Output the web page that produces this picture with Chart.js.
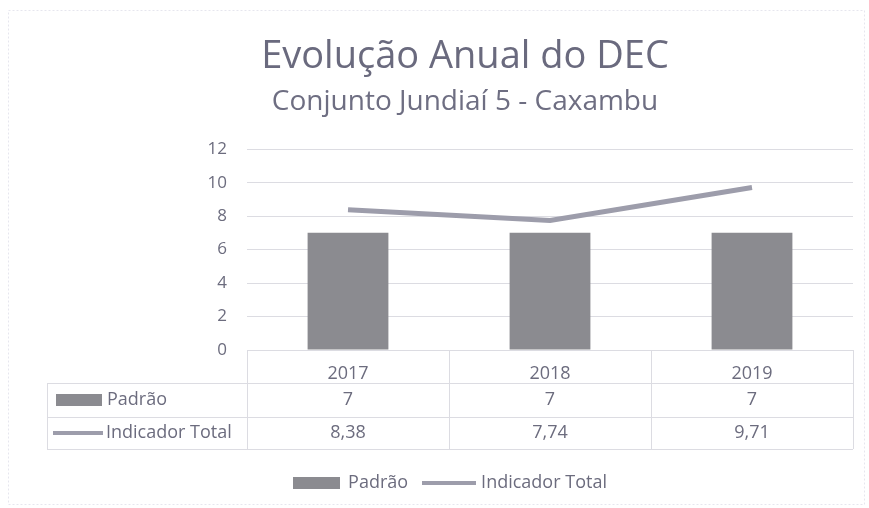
<!DOCTYPE html>
<html>
<head>
<meta charset="utf-8">
<script src="https://cdn.jsdelivr.net/npm/chart.js@4"></script>
<style>
  html, body { margin: 0; padding: 0; background: #fff; }
  #wrap { width: 869px; height: 508px; position: relative; }
</style>
</head>
<body>
<div id="wrap"><canvas id="chart"></canvas></div>
<script>
const years = ['2017', '2018', '2019'];
const padrao = [7, 7, 7];
const indicadorTotal = [8.38, 7.74, 9.71];
const yTicks = [0, 2, 4, 6, 8, 10, 12];

const barColor = '#8b8b90';
const lineColor = '#9d9dab';
const textColor = '#6c6c7e';
const gridColor = '#dcdce2';
const fontFamily = "'Open Sans', 'Noto Sans', sans-serif";

// little marker images for the legend
function makeMarker(w, h, color) {
    const c = document.createElement('canvas');
    c.width = w; c.height = h;
    const g = c.getContext('2d');
    g.fillStyle = color;
    g.fillRect(0, 0, w, h);
    return c;
}
const barMarker = makeMarker(47, 12, barColor);
const lineMarker = makeMarker(54, 4, lineColor);

const fmt = v => v.toLocaleString('pt-BR');

// titles sit a bit right of the centre in the original
const shiftTitles = {
    id: 'shiftTitles',
    afterLayout(chart) {
        chart.boxes.forEach(b => {
            if (b !== chart.legend && b.options && typeof b.options.text === 'string') {
                b.left += 15;
                b.right += 15;
            }
        });
    }
};

// draws the data table under the plot + the outer frame
const dataTable = {
    id: 'dataTable',
    afterDraw(chart) {
        const ctx = chart.ctx;
        const x = chart.scales.x;
        const area = chart.chartArea;
        const tableLeft = 47;
        const top = area.bottom;
        const row1 = top + 33;
        const row2 = row1 + 34;
        const bottom = row2 + 32;
        const step = (x.right - x.left) / years.length;

        ctx.save();
        // frame
        ctx.strokeStyle = '#e6e6ee';
        ctx.lineWidth = 1;
        ctx.setLineDash([2, 2]);
        ctx.strokeRect(8.5, 10.5, 856, 494);
        ctx.setLineDash([]);

        ctx.strokeStyle = gridColor;
        ctx.beginPath();
        ctx.moveTo(x.left, top + 0.5); ctx.lineTo(x.right, top + 0.5);
        ctx.moveTo(tableLeft, row1 + 0.5); ctx.lineTo(x.right, row1 + 0.5);
        ctx.moveTo(tableLeft, row2 + 0.5); ctx.lineTo(x.right, row2 + 0.5);
        ctx.moveTo(tableLeft, bottom + 0.5); ctx.lineTo(x.right, bottom + 0.5);
        ctx.moveTo(tableLeft + 0.5, row1); ctx.lineTo(tableLeft + 0.5, bottom);
        for (let i = 0; i <= years.length; i++) {
            const lx = Math.round(x.left + i * step) + 0.5;
            ctx.moveTo(lx, top); ctx.lineTo(lx, bottom);
        }
        ctx.stroke();

        ctx.font = '18px ' + fontFamily;
        ctx.textBaseline = 'middle';

        // row labels with markers
        const r1 = (row1 + row2) / 2;
        const r2 = (row2 + bottom) / 2;
        ctx.fillStyle = barColor;
        ctx.fillRect(56, r1 - 6, 46, 12);
        ctx.fillStyle = lineColor;
        ctx.fillRect(53, r2 - 2, 50, 4);
        ctx.fillStyle = textColor;
        ctx.textAlign = 'left';
        ctx.fillText('Padrão', 107, r1);
        ctx.fillText('Indicador Total', 106, r2);

        ctx.textAlign = 'center';
        years.forEach((y, i) => {
            const cx = x.getPixelForValue(i);
            ctx.fillText(fmt(padrao[i]), cx, r1);
            ctx.fillText(fmt(indicadorTotal[i]), cx, r2);
        });
        ctx.restore();
    }
};

new Chart(document.getElementById('chart'), {
    data: {
        labels: years,
        datasets: [
            {
                type: 'line',
                label: 'Indicador Total',
                data: indicadorTotal,
                borderColor: lineColor,
                backgroundColor: lineColor,
                borderWidth: 5,
                pointRadius: 0,
                tension: 0,
                pointStyle: lineMarker,
                order: 0
            },
            {
                type: 'bar',
                label: 'Padrão',
                data: padrao,
                backgroundColor: barColor,
                barPercentage: 0.4,
                categoryPercentage: 1,
                pointStyle: barMarker,
                order: 1
            }
        ]
    },
    options: {
        responsive: true,
        maintainAspectRatio: false,
        animation: false,
        layout: { padding: { top: 0, left: 47, right: 16, bottom: 6 } },
        plugins: {
            title: {
                display: true,
                text: 'Evolução Anual do DEC',
                color: '#6a6a7e',
                font: { family: fontFamily, size: 38, weight: 'normal' },
                padding: { top: 34, bottom: 6 }
            },
            subtitle: {
                display: true,
                text: 'Conjunto Jundiaí 5 - Caxambu',
                color: '#6e6e82',
                font: { family: fontFamily, size: 28, weight: 'normal' },
                padding: { top: 0, bottom: 30 }
            },
            legend: {
                position: 'bottom',
                reverse: true,
                labels: {
                    usePointStyle: true,
                    pointStyleWidth: 46,
                    color: textColor,
                    font: { family: fontFamily, size: 18 },
                    padding: 18
                }
            },
            tooltip: { enabled: false }
        },
        scales: {
            x: {
                grid: { display: false },
                border: { display: false },
                ticks: {
                    color: textColor,
                    font: { family: fontFamily, size: 18 },
                    padding: 5
                },
                afterFit: s => { s.height = 106; }
            },
            y: {
                min: 0,
                max: 12,
                afterBuildTicks: s => { s.ticks = yTicks.map(v => ({ value: v })); },
                grid: { color: gridColor, drawTicks: false },
                border: { display: false },
                ticks: {
                    color: textColor,
                    font: { family: fontFamily, size: 17 },
                    padding: 20
                },
                afterFit: s => { s.width = 200; }
            }
        }
    },
    plugins: [shiftTitles, dataTable]
});
</script>
</body>
</html>
